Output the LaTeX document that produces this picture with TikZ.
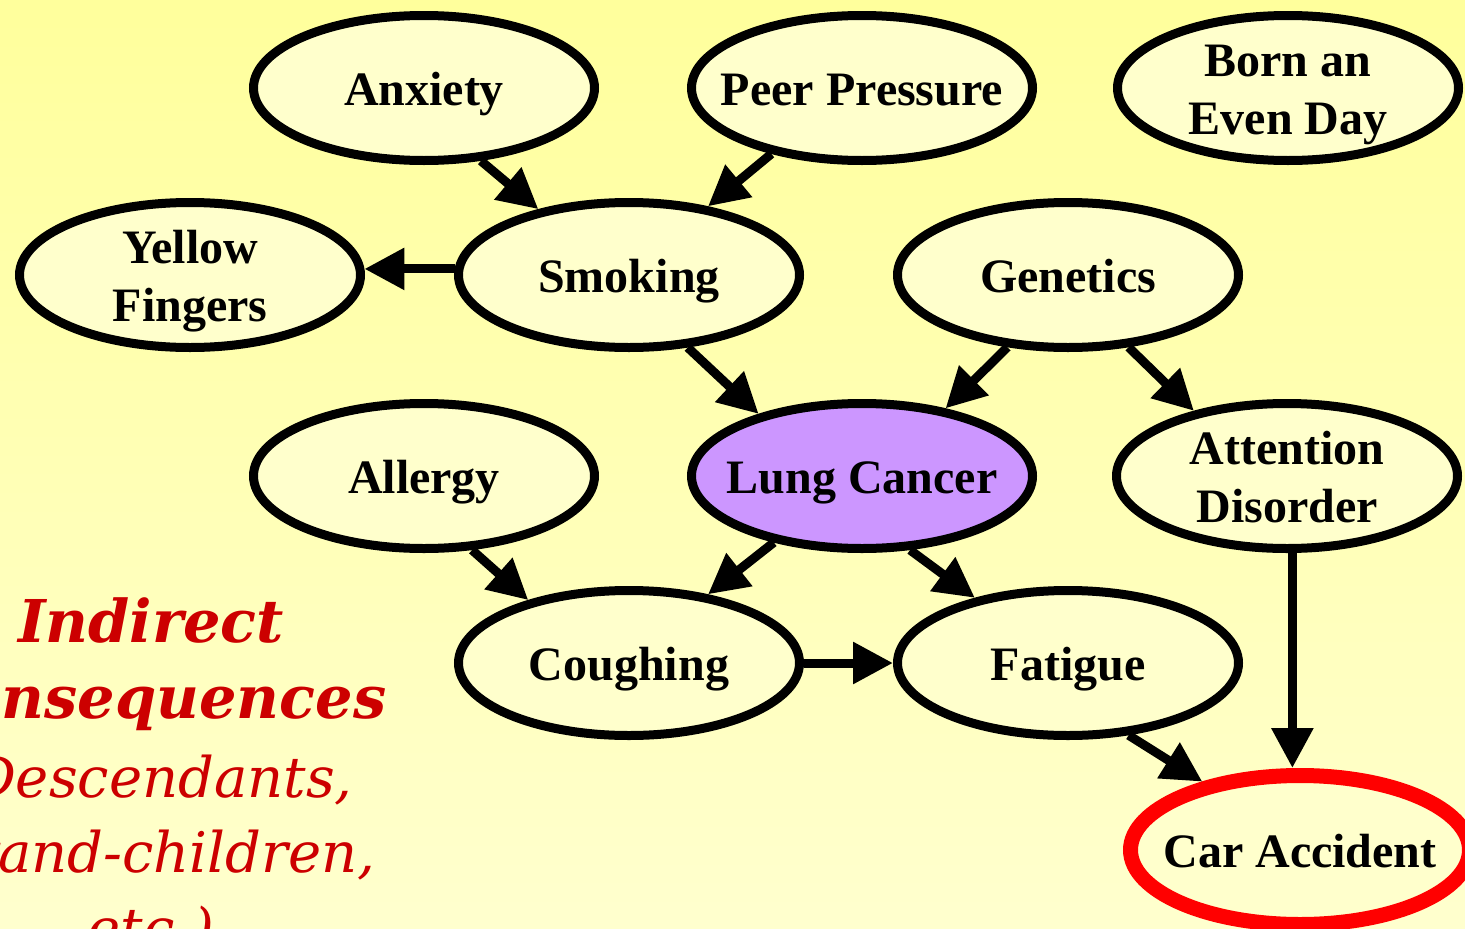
\documentclass[tikz,border=0pt]{standalone}
\usepackage{fontspec}
\setmainfont{Liberation Serif}
\newfontfamily\dvs{DejaVu Serif}
\usetikzlibrary{arrows.meta,shapes.geometric}
\definecolor{bgtop}{HTML}{FFFF9C}
\definecolor{bgbot}{HTML}{FFFFCE}
\definecolor{nodefill}{HTML}{FFFFCC}
\definecolor{lungfill}{HTML}{CC96FF}
\definecolor{darkred}{HTML}{CC0000}
\definecolor{carred}{HTML}{FF0000}
\tikzset{
  ell/.style={ellipse, draw=black, line width=9pt, fill=nodefill,
    minimum width=341pt, minimum height=145pt, inner sep=0pt},
  txt/.style={font=\fontsize{48}{58}\selectfont\bfseries, align=center,
    text height=34pt, text depth=0pt, inner sep=0pt},
  txttwo/.style={txt, text height=92pt},
  edge/.style={line width=9pt, -{Triangle[length=40pt,width=40pt]}},
  side/.style={text=darkred, anchor=base, inner sep=0pt},
  sidehead/.style={side, font=\dvs\bfseries\itshape\fontsize{59}{70}\selectfont},
  sidesub/.style={side, font=\dvs\itshape\fontsize{56}{70}\selectfont},
}
\begin{document}
\begin{tikzpicture}[x=1pt,y=-1pt]
\useasboundingbox (0,0) rectangle (1465,929);
\clip (0,0) rectangle (1465,929);
\shade[top color=bgtop, bottom color=bgbot] (0,0) rectangle (1465,929);

% nodes
\node[ell, label={[txt]center:Anxiety}] (anx) at (424,88) {};
\node[ell, label={[txt]center:Peer Pressure}] (peer) at (862,88) {};
\node[ell, label={[txttwo]center:{Born an\\Even Day}}] (born) at (1288,88) {};
\node[ell, label={[txttwo]center:{Yellow\\Fingers}}] (yel) at (190,275) {};
\node[ell, label={[txt]center:Smoking}] (smk) at (629,275) {};
\node[ell, label={[txt]center:Genetics}] (gen) at (1068,275) {};
\node[ell, label={[txt]center:Allergy}] (all) at (424,476) {};
\node[ell, fill=lungfill, label={[txt]center:Lung Cancer}] (lung) at (862,476) {};
\node[ell, label={[txttwo]center:{Attention\\Disorder}}] (att) at (1287,476) {};
\node[ell, label={[txt]center:Coughing}] (cough) at (629,663) {};
\node[ell, label={[txt]center:Fatigue}] (fat) at (1068,663) {};
\node[ell, draw=carred, line width=15pt, minimum width=339pt, minimum height=149pt,
      label={[txt]center:Car Accident}] (car) at (1300,850) {};

% edges
\draw[edge] (anx.-52) -- (smk.144);
\draw[edge] (peer.216) -- (smk.41);
\draw[edge] (smk.178) -- (yel.2);
\draw[edge] (smk.-51) -- (lung.149);
\draw[edge] (gen.230) -- (lung.39);
\draw[edge] (gen.-50) -- (att.145);
\draw[edge] (all.-57) -- (cough.148);
\draw[edge] (lung.217) -- (cough.41);
\draw[edge] (lung.-57) -- (fat.145);
\draw[edge] (cough.0) -- (fat.180);
\draw[edge] (fat.-50) -- (car.145);
\draw[edge] (att.-86) -- (att.-86 |- car.north);

% side text
\node[sidehead] (t1) at (151,642) {Indirect};
\node[sidehead] (t2) at (151,718) {Consequences};
\node[sidesub] (t3) at (151,797) {(Descendants,};
\node[sidesub] (t4) at (151,872) {Grand-children,};
\node[sidesub] (t5) at (151,948) {etc.)};
\end{tikzpicture}
\end{document}
